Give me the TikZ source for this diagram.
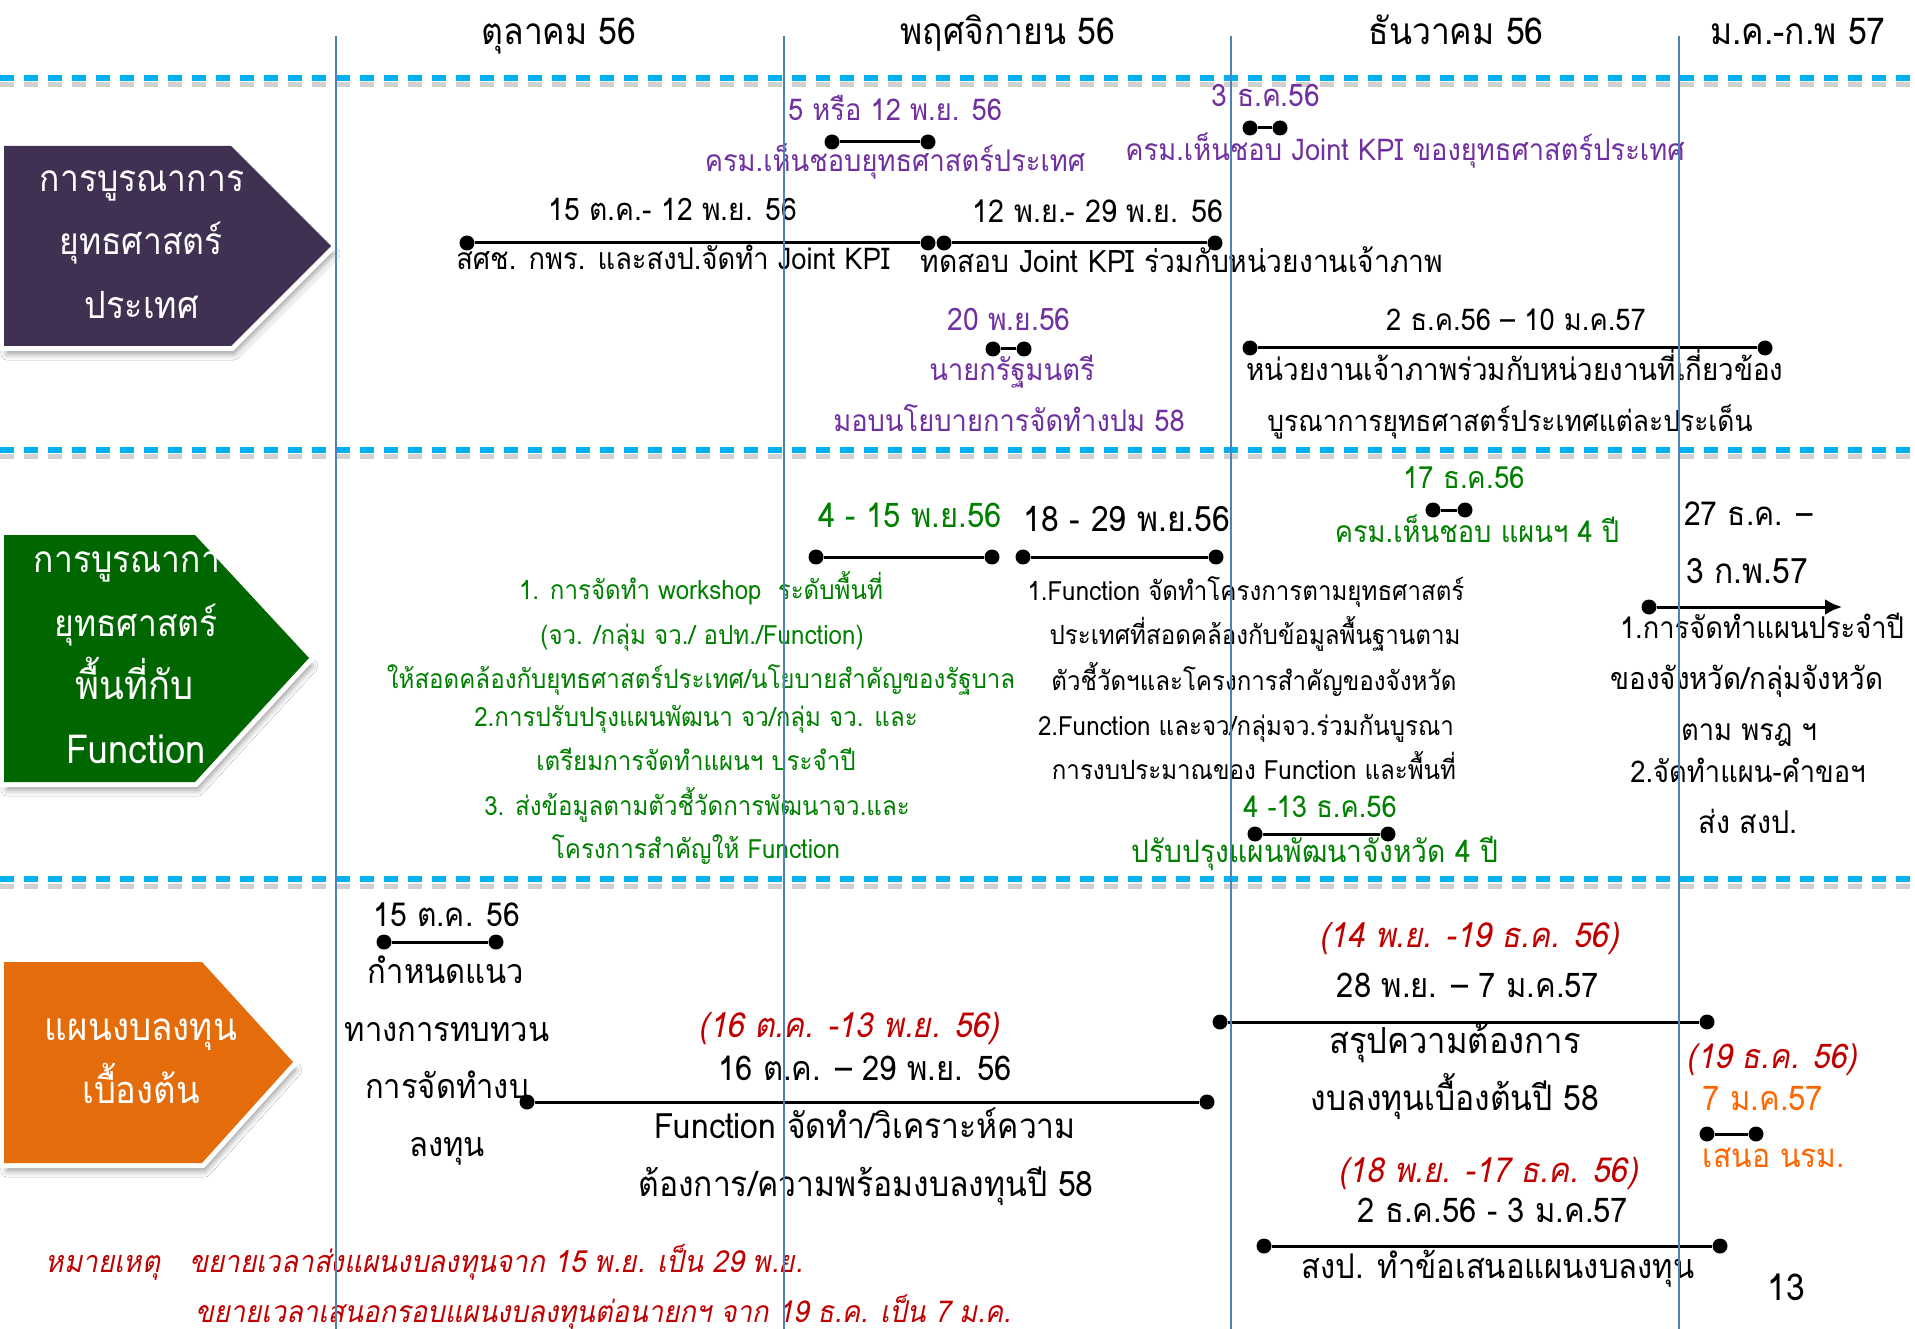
\documentclass[tikz,border=0pt]{standalone}
\usepackage{fontspec}
\setmainfont[Script=Thai, FakeStretch=0.91]{Loma}
\newfontfamily\thit[Script=Thai, FakeStretch=0.91, FakeSlant=0.2]{Loma}
\usetikzlibrary{shadows.blur, arrows.meta}
\definecolor{chevP}{HTML}{403152}
\definecolor{chevG}{HTML}{006600}
\definecolor{chevO}{HTML}{E46C0A}
\definecolor{purp}{HTML}{7030A0}
\definecolor{grn}{HTML}{008000}
\definecolor{redt}{HTML}{C00000}
\definecolor{orgt}{HTML}{FF6600}
\definecolor{vline}{HTML}{4F81BD}
\definecolor{dashc}{HTML}{00B0F0}
\tikzset{
  tx/.style={inner sep=0, anchor=base},
  txl/.style={inner sep=0, anchor=base west},
  fs/.style={font=\fontsize{#1}{#1}\selectfont},
  fsi/.style={font=\thit\fontsize{#1}{#1}\selectfont},
  dot/.style={circle, fill=black, inner sep=0, minimum size=15},
  bar/.style={line width=3, black},
  chevsh/.style={fill=white, draw=white, line width=10, line join=miter,
    blur shadow={shadow xshift=3pt, shadow yshift=-8pt, shadow opacity=40, shadow blur radius=6pt}},
  sep/.style={line width=6, dashc, dash pattern=on 14 off 10},
  sepsh/.style={line width=5, black!40, opacity=0.45, dash pattern=on 14 off 10},
  vl/.style={line width=1.7, vline}
}
\begin{document}
\begin{tikzpicture}[x=1pt,y=-1pt]
\useasboundingbox[fill=white] (0,0) rectangle (1915,1329);
% separators
\foreach \yy in {78,450,879}{
  \draw[sepsh] (0,\yy+7) -- (1915,\yy+7);
  \draw[sep] (0,\yy) -- (1915,\yy);
}
% headers
\node[tx, fs=37] (h1) at (559,45) {ตุลาคม 56};
\node[tx, fs=37] (h2) at (1008,45) {พฤศจิกายน 56};
\node[tx, fs=37] (h3) at (1456,45) {ธันวาคม 56};
\node[tx, fs=37] (h4) at (1798,45) {ม.ค.-ก.พ 57};
% chevrons
\path[chevsh] (4,146) -- (231,146) -- (331,246) -- (231,346) -- (4,346) -- cycle;
\fill[chevP] (4,146) -- (231,146) -- (331,246) -- (231,346) -- (4,346) -- cycle;
\path[chevsh] (4,535) -- (195,535) -- (309,658) -- (195,782) -- (4,782) -- cycle;
\fill[chevG] (4,535) -- (195,535) -- (309,658) -- (195,782) -- (4,782) -- cycle;
\path[chevsh] (4,962) -- (202,962) -- (293,1062) -- (202,1163) -- (4,1163) -- cycle;
\fill[chevO] (4,962) -- (202,962) -- (293,1062) -- (202,1163) -- (4,1163) -- cycle;
\node[tx, fs=37, white] (p1) at (142,192) {การบูรณาการ};
\node[tx, fs=37, white] (p2) at (141,255) {ยุทธศาสตร์};
\node[tx, fs=37.5, white] (p3) at (142,319) {ประเทศ};
\node[tx, fs=37, white] (g1) at (136,572) {การบูรณาการ};
\node[tx, fs=37, white] (g2) at (136,636) {ยุทธศาสตร์};
\node[tx, fs=40, white] (g3) at (135,699) {พื้นที่กับ};
\node[tx, fs=40, white] (g4) at (136,763) {Function};
\node[tx, fs=38.5, white] (o1) at (141,1040) {แผนงบลงทุน};
\node[tx, fs=38, white] (o2) at (141,1103) {เบื้องต้น};
% ---------- row 1
\node[tx, fs=30, purp] (r1a) at (895,121) {5 หรือ 12 พ.ย. 56};
\node[dot] (d1a) at (832,142) {}; \node[dot] (d1b) at (928,142) {};
\draw[bar] (d1a) -- (d1b);
\node[tx, fs=30, purp] (r1b) at (895,172) {ครม.เห็นชอบยุทธศาสตร์ประเทศ};
\node[tx, fs=31, purp] (r1c) at (1266,107) {3 ธ.ค.56};
\node[dot] (d2a) at (1250,128) {}; \node[dot] (d2b) at (1280,128) {};
\draw[bar] (d2a) -- (d2b);
\node[tx, fs=30, purp] (r1d) at (1405,161) {ครม.เห็นชอบ Joint KPI ของยุทธศาสตร์ประเทศ};
\node[tx, fs=31] (r1e) at (673,221) {15 ต.ค.- 12 พ.ย. 56};
\node[dot] (d3a) at (467,243) {}; \node[dot] (d3b) at (928,243) {};
\draw[bar] (d3a) -- (d3b);
\node[tx, fs=30] (r1f) at (673,270) {สศช. กพร. และสงป.จัดทำ Joint KPI};
\node[tx, fs=31.5] (r1g) at (1098,223) {12 พ.ย.- 29 พ.ย. 56};
\node[dot] (d4a) at (944,243) {}; \node[dot] (d4b) at (1215,243) {};
\draw[bar] (d4a) -- (d4b);
\node[tx, fs=31] (r1h) at (1182,273) {ทดสอบ Joint KPI ร่วมกับหน่วยงานเจ้าภาพ};
\node[tx, fs=31, purp] (r1i) at (1009,331) {20 พ.ย.56};
\node[dot] (d5a) at (993,349) {}; \node[dot] (d5b) at (1024,349) {};
\draw[bar] (d5a) -- (d5b);
\node[tx, fs=30, purp] (r1j) at (1012,381) {นายกรัฐมนตรี};
\node[tx, fs=30, purp] (r1k) at (1009,432) {มอบนโยบายการจัดทำงปม 58};
\node[tx, fs=30] (r1l) at (1516,331) {2 ธ.ค.56 – 10 ม.ค.57};
\node[dot] (d6a) at (1250,348) {}; \node[dot] (d6b) at (1765,348) {};
\draw[bar] (d6a) -- (d6b);
\node[tx, fs=30.5] (r1m) at (1515,381) {หน่วยงานเจ้าภาพร่วมกับหน่วยงานที่เกี่ยวข้อง};
\node[tx, fs=29] (r1n) at (1510,432) {บูรณาการยุทธศาสตร์ประเทศแต่ละประเด็น};
% ---------- row 2
\node[tx, fs=34, grn] (r2a) at (910,527) {4 - 15 พ.ย.56};
\node[dot] (e1a) at (816,557) {}; \node[dot] (e1b) at (992,557) {};
\draw[bar] (e1a) -- (e1b);
\node[tx, fs=35] (r2b) at (1127,531) {18 - 29 พ.ย.56};
\node[dot] (e2a) at (1023,557) {}; \node[dot] (e2b) at (1216,557) {};
\draw[bar] (e2a) -- (e2b);
\node[tx, fs=26.5, grn] (gb1) at (701,599) {1. การจัดทำ workshop\ \ ระดับพื้นที่};
\node[tx, fs=26.5, grn] (gb2) at (702,644) {(จว. /กลุ่ม จว./ อปท./Function)};
\node[tx, fs=26.5, grn] (gb3) at (701,688) {ให้สอดคล้องกับยุทธศาสตร์ประเทศ/นโยบายสำคัญของรัฐบาล};
\node[tx, fs=26.5, grn] (gb4) at (696,726) {2.การปรับปรุงแผนพัฒนา จว/กลุ่ม จว. และ};
\node[tx, fs=26.5, grn] (gb5) at (696,770) {เตรียมการจัดทำแผนฯ ประจำปี};
\node[tx, fs=26.5, grn] (gb6) at (697,815) {3. ส่งข้อมูลตามตัวชี้วัดการพัฒนาจว.และ};
\node[tx, fs=26.5, grn] (gb7) at (696,858) {โครงการสำคัญให้ Function};
\node[tx, fs=30.5, grn] (r2c) at (1464,489) {17 ธ.ค.56};
\node[dot] (e3a) at (1433,510) {}; \node[dot] (e3b) at (1465,510) {};
\draw[bar] (e3a) -- (e3b);
\node[tx, fs=30, grn] (r2d) at (1477,542) {ครม.เห็นชอบ แผนฯ 4 ปี};
\node[tx, fs=26.5] (bb1) at (1246,600) {1.Function จัดทำโครงการตามยุทธศาสตร์};
\node[tx, fs=26.5] (bb2) at (1255,644) {ประเทศที่สอดคล้องกับข้อมูลพื้นฐานตาม};
\node[tx, fs=26.5] (bb3) at (1254,690) {ตัวชี้วัดฯและโครงการสำคัญของจังหวัด};
\node[tx, fs=26.5] (bb4) at (1246,735) {2.Function และจว/กลุ่มจว.ร่วมกันบูรณา};
\node[tx, fs=26.5] (bb5) at (1254,779) {การงบประมาณของ Function และพื้นที่};
\node[tx, fs=30, grn] (r2e) at (1320,817) {4 -13 ธ.ค.56};
\node[dot] (e4a) at (1255,834) {}; \node[dot] (e4b) at (1388,834) {};
\draw[bar] (e4a) -- (e4b);
\node[tx, fs=31, grn] (r2f) at (1315,862) {ปรับปรุงแผนพัฒนาจังหวัด 4 ปี};
\node[txl, fs=33] (r2g) at (1684,525) {27 ธ.ค. –};
\node[txl, fs=35] (r2h) at (1686,583) {3 ก.พ.57};
\node[dot] (e5a) at (1649,607) {}; \coordinate (e5b) at (1842,607);
\draw[bar, -{Latex[length=17,width=16]}] (e5a) -- (e5b);
\node[tx, fs=30] (rb1) at (1762,638) {1.การจัดทำแผนประจำปี};
\node[tx, fs=30.5] (rb2) at (1747,689) {ของจังหวัด/กลุ่มจังหวัด};
\node[tx, fs=30] (rb3) at (1749,740) {ตาม พรฎ ฯ};
\node[tx, fs=30] (rb4) at (1748,782) {2.จัดทำแผน-คำขอฯ};
\node[tx, fs=31.5] (rb5) at (1748,833) {ส่ง สงป.};
% ---------- row 3
\node[tx, fs=33] (r3a) at (447,926) {15 ต.ค. 56};
\node[dot] (f1a) at (384,942) {}; \node[dot] (f1b) at (496,942) {};
\draw[bar] (f1a) -- (f1b);
\node[tx, fs=34] (r3b) at (446,983) {กำหนดแนว};
\node[tx, fs=34] (r3c) at (447,1041) {ทางการทบทวน};
\node[tx, fs=34] (r3d) at (447,1098) {การจัดทำงบ};
\node[tx, fs=34] (r3e) at (447,1156) {ลงทุน};
\node[dot] (f2a) at (527,1102) {}; \node[dot] (f2b) at (1207,1102) {};
\draw[bar] (f2a) -- (f2b);
\node[tx, fsi=34.5, redt] (r3f) at (849,1037) {(16 ต.ค. -13 พ.ย. 56)};
\node[tx, fs=34] (r3g) at (865,1080) {16 ต.ค. – 29 พ.ย. 56};
\node[tx, fs=35] (r3h) at (865,1138) {Function จัดทำ/วิเคราะห์ความ};
\node[tx, fs=35] (r3i) at (866,1196) {ต้องการ/ความพร้อมงบลงทุนปี 58};
\node[tx, fsi=34.5, redt] (r3j) at (1469,947) {(14 พ.ย. -19 ธ.ค. 56)};
\node[tx, fs=34] (r3k) at (1468,997) {28 พ.ย. – 7 ม.ค.57};
\node[dot] (f3a) at (1220,1022) {}; \node[dot] (f3b) at (1707,1022) {};
\draw[bar] (f3a) -- (f3b);
\node[tx, fs=36] (r3l) at (1455,1053) {สรุปความต้องการ};
\node[tx, fs=35] (r3m) at (1455,1110) {งบลงทุนเบื้องต้นปี 58};
\node[tx, fsi=34, redt] (r3n) at (1772,1068) {(19 ธ.ค. 56)};
\node[tx, fs=34, orgt] (r3o) at (1763,1110) {7 ม.ค.57};
\node[dot] (f4a) at (1707,1134) {}; \node[dot] (f4b) at (1756,1134) {};
\draw[bar] (f4a) -- (f4b);
\node[tx, fs=33, orgt] (r3p) at (1774,1167) {เสนอ นรม.};
\node[tx, fsi=34.5, redt] (r3q) at (1488,1182) {(18 พ.ย. -17 ธ.ค. 56)};
\node[tx, fs=34] (r3r) at (1493,1222) {2 ธ.ค.56 - 3 ม.ค.57};
\node[dot] (f5a) at (1264,1246) {}; \node[dot] (f5b) at (1720,1246) {};
\draw[bar] (f5a) -- (f5b);
\node[tx, fs=34] (r3s) at (1498,1278) {สงป. ทำข้อเสนอแผนงบลงทุน};
\node[tx, fs=37] (pg) at (1786,1300) {13};
\node[tx, fsi=30.5, redt] (nt0) at (103,1272) {หมายเหตุ};
\node[txl, fsi=30.5, redt] (nt1) at (189,1272) {ขยายเวลาส่งแผนงบลงทุนจาก 15 พ.ย. เป็น 29 พ.ย.};
\node[txl, fsi=30.1, redt] (nt2) at (195,1322) {ขยายเวลาเสนอกรอบแผนงบลงทุนต่อนายกฯ จาก 19 ธ.ค. เป็น 7 ม.ค.};
% vertical lines
\foreach \xx in {336,784,1231,1679}{ \draw[vl] (\xx,36) -- (\xx,1329); }
\end{tikzpicture}
\end{document}
